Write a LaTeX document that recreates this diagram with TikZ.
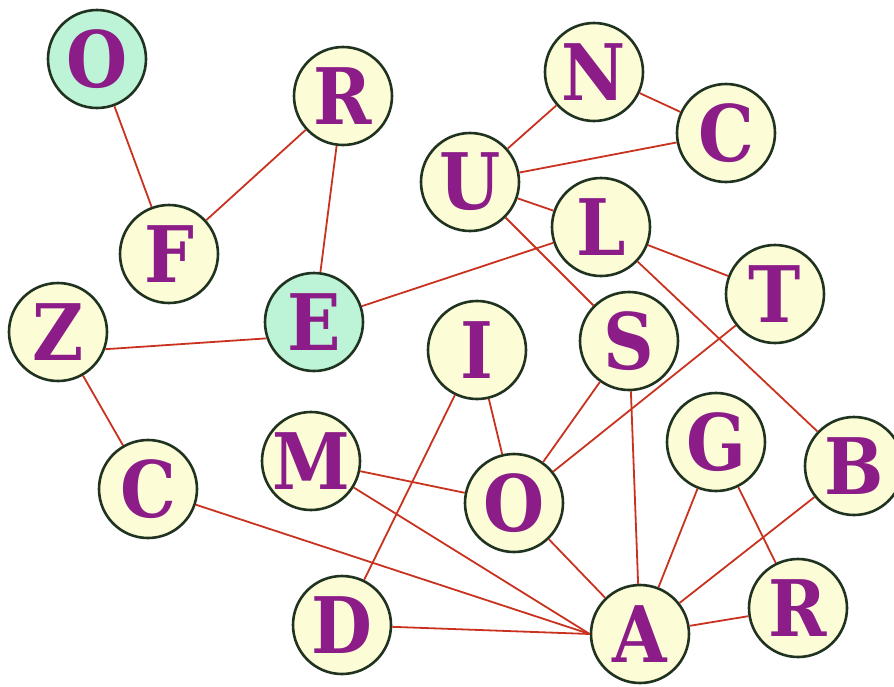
\documentclass[tikz,border=0pt]{standalone}
\usepackage{fontspec}
\newfontfamily\letterfont{DejaVu Serif Condensed}
\definecolor{edgered}{HTML}{C8321E}
\definecolor{ringcol}{HTML}{1F3320}
\definecolor{fillyel}{HTML}{FCFCD6}
\definecolor{fillgrn}{HTML}{BDF3D6}
\definecolor{lettercol}{HTML}{8C1C88}
\tikzset{
  vert/.style={circle, draw=ringcol, line width=2.6pt, fill=fillyel, minimum size=98pt, inner sep=0pt,
     font=\letterfont\bfseries\fontsize{78}{78}\selectfont, text=lettercol},
  vertg/.style={vert, fill=fillgrn},
  link/.style={draw=edgered, line width=1.8pt}
}
\begin{document}
\begin{tikzpicture}[x=1pt,y=-1pt]
\useasboundingbox (0,0) rectangle (894,686);
% nodes
\node[vertg] (O1) at (97,59) {O};
\node[vert] (R1) at (343,96) {R};
\node[vert] (F) at (169,254) {F};
\node[vert] (N) at (594,72) {N};
\node[vert] (C1) at (726,133) {C};
\node[vert] (U) at (470,182) {U};
\node[vert] (L) at (601,227) {L};
\node[vert] (T) at (775,294) {T};
\node[vert] (Z) at (58,332) {Z};
\node[vertg] (E) at (314,322) {E};
\node[vert] (I) at (477,350) {I};
\node[vert] (S) at (629,341) {S};
\node[vert] (M) at (311,461) {M};
\node[vert] (C2) at (148,489) {C};
\node[vert] (O2) at (514,503) {O};
\node[vert] (G) at (716,442) {G};
\node[vert] (B) at (854,466) {B};
\node[vert] (D) at (342,625) {D};
\node[vert] (A) at (640,634) {A};
\node[vert] (R2) at (798,608) {R};
% edges
\path[link] (O1) -- (F);
\path[link] (F) -- (R1);
\path[link] (R1) -- (E);
\path[link] (Z.-20) -- (E.199);
\path[link] (E) -- (L);
\path[link] (Z) -- (C2);
\path[link] (N) -- (U);
\path[link] (N) -- (C1);
\path[link] (U) -- (C1);
\path[link] (U) -- (L);
\path[link] (U) -- (S);
\path[link] (L) -- (T);
\path[link] (L) -- (B);
\path[link] (I) -- (O2);
\path[link] (I) -- (D);
\path[link] (S) -- (O2);
\path[link] (S) -- (A);
\path[link] (T) -- (O2);
\path[link] (M) -- (O2);
\path[link] (M) -- (A.west);
\path[link] (C2) -- (A.west);
\path[link] (D) -- (A.west);
\path[link] (O2) -- (A);
\path[link] (G) -- (A);
\path[link] (G) -- (R2);
\path[link] (B) -- (A);
\path[link] (A) -- (R2);
\end{tikzpicture}
\end{document}
